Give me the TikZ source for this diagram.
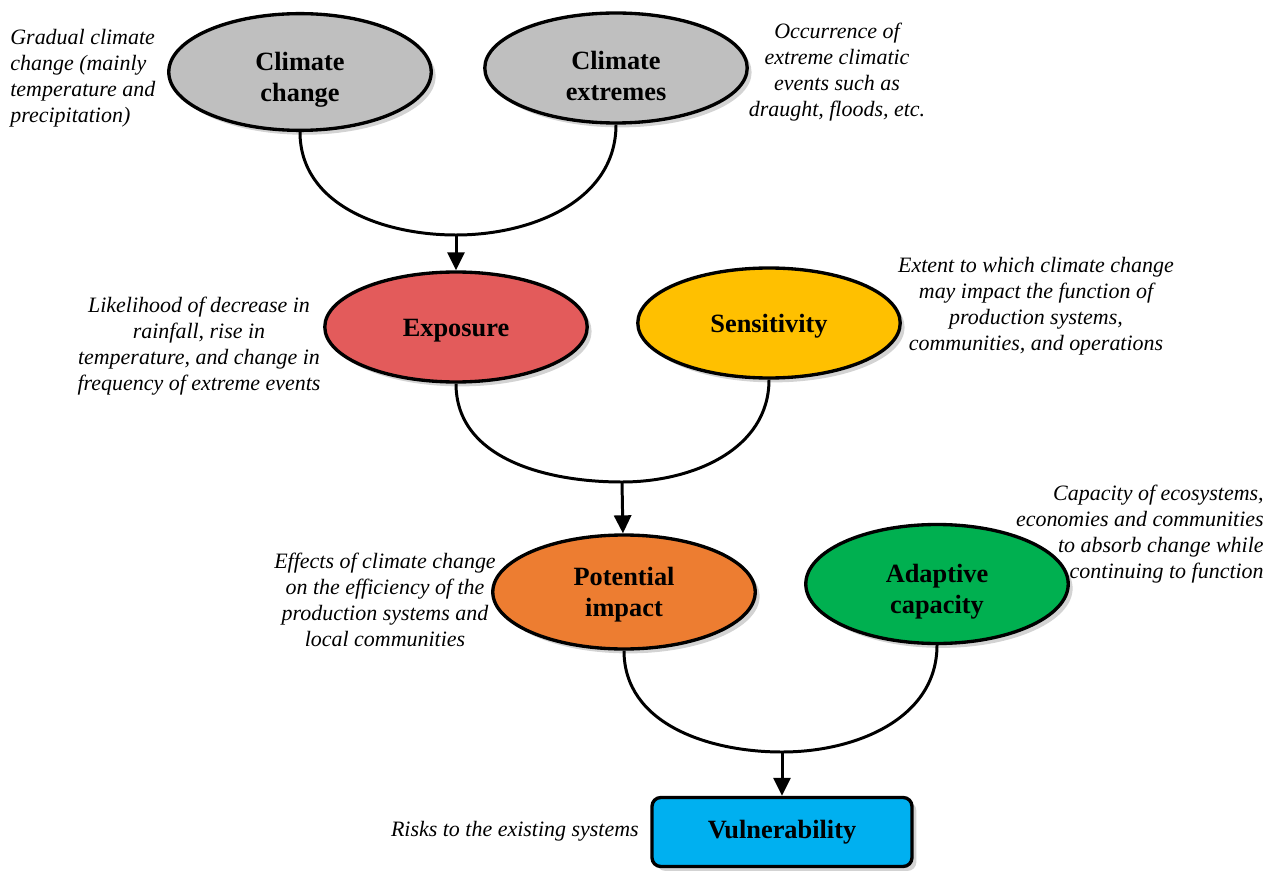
\documentclass[tikz,border=0pt]{standalone}
\usepackage{fontspec}
\setmainfont{Liberation Serif}
\usetikzlibrary{arrows.meta,shapes.geometric,shadows}
\definecolor{greyfill}{HTML}{BFBFBF}
\definecolor{expred}{HTML}{E35B5B}
\definecolor{sensyellow}{HTML}{FFC000}
\definecolor{impactorange}{HTML}{ED7D31}
\definecolor{adaptgreen}{HTML}{00B050}
\definecolor{vulnblue}{HTML}{00B0F0}
\tikzset{
  driver/.style={ellipse,draw=black,line width=1.9pt,minimum width=5.25cm,
    minimum height=2.2cm,align=center,font=\fontsize{15}{17.6}\selectfont\bfseries,
    execute at begin node={\rule{0pt}{14pt}},
    drop shadow={shadow xshift=2.5pt,shadow yshift=-2.5pt,opacity=0.35}},
  twoline/.style={execute at begin node={\rule{0pt}{#1}}},
  twoline/.default=37pt,
  outcome/.style={rectangle,rounded corners=5pt,draw=black,line width=1.9pt,
    minimum width=5.2cm,minimum height=1.38cm,font=\fontsize{15}{17.6}\selectfont\bfseries,
    drop shadow={shadow xshift=2.5pt,shadow yshift=-2.5pt,opacity=0.35}},
  note/.style={font=\fontsize{12.5}{14.8}\selectfont\itshape,align=center,inner sep=0pt},
  link/.style={draw=black,line width=1.7pt},
  arrow/.style={-{Triangle[length=3.6mm,width=3.4mm]},draw=black,line width=1.7pt}
}

\begin{document}
\begin{tikzpicture}[x=0.02cm,y=-0.02cm]
  \useasboundingbox (0,0) rectangle (1267,871);
  % first level
  \node[driver,twoline,fill=greyfill] (cc) at (300,72) {Climate\\change};
  \node[driver,twoline,fill=greyfill] (ce) at (616,68) {Climate\\extremes};
  \node[note,anchor=west,align=left] (ccnote) at (10,78) {Gradual climate\\change (mainly\\temperature and\\precipitation)};
  \node[note] (cenote) at (837,72) {Occurrence of\\extreme climatic\\events such as\\draught, floods, etc.};
  % second level
  \node[driver,fill=expred] (exp) at (456,327) {Exposure};
  \node[driver,fill=sensyellow] (sens) at (769,323) {Sensitivity};
  \node[note] (expnote) at (199,346) {Likelihood of decrease in\\rainfall, rise in\\temperature, and change in\\frequency of extreme events};
  \node[note] (sensnote) at (1036,306) {Extent to which climate change\\may impact the function of\\production systems,\\communities, and operations};
  % third level
  \node[driver,twoline=31.5pt,minimum height=2.28cm,fill=impactorange] (pi) at (624,592) {Potential\\impact};
  \node[driver,twoline,minimum height=2.38cm,fill=adaptgreen] (ac) at (937,584) {Adaptive\\capacity};
  \node[note] (pinote) at (385,600) {Effects of climate change\\on the efficiency of the\\production systems and\\local communities};
  \node[note,anchor=east,align=right] (acnote) at (1264,534) {Capacity of ecosystems,\\economies and communities\\to absorb change while\\continuing to function};
  % result
  \node[outcome,fill=vulnblue] (vul) at (782,832) {Vulnerability};
  \node[note,anchor=east] (vulnote) at (639,831) {Risks to the existing systems};
  % joins
  \coordinate (j1) at (456,235);
  \coordinate (j2) at (622,482);
  \coordinate (j3) at (782,752);
  \draw[link] (cc.south) to[out=-90,in=180] (j1) to[out=0,in=-90] (ce.south);
  \draw[link] (exp.south) to[out=-90,in=180] (j2) to[out=0,in=-90] (sens.south);
  \draw[link] (pi.south) to[out=-90,in=180] (j3) to[out=0,in=-90] (ac.south);
  \draw[arrow] (j1) -- (exp);
  \draw[arrow] (j2) -- (pi);
  \draw[arrow] (j3) -- (vul);
\end{tikzpicture}
\end{document}
